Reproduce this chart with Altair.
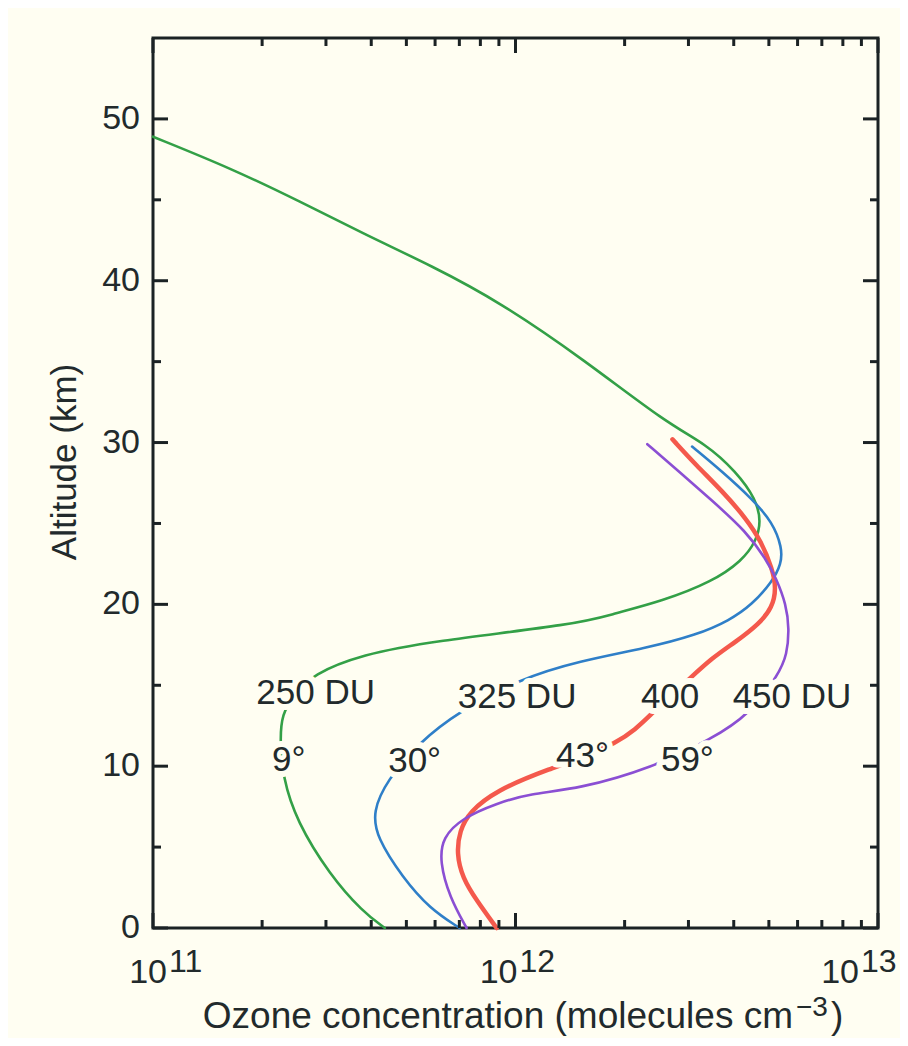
import altair as alt
import pandas as pd

# ---------------- data ----------------
series_names = ["250 DU", "325 DU", "400 DU", "450 DU"]
series_colors = ["#33a047", "#2f7fc8", "#f4594c", "#8b4fd3"]
series_widths = [2.6, 2.6, 4.5, 2.6]

green_conc = [1.00e11, 1.66e11, 2.54e11, 3.89e11, 5.90e11, 9.03e11, 1.55e12,
              2.61e12, 3.36e12, 4.06e12, 4.61e12, 4.76e12, 4.61e12, 4.22e12, 3.49e12,
              2.54e12, 1.85e12, 1.50e12, 5.79e11, 3.79e11, 2.76e11, 2.43e11, 2.27e11,
              2.24e11, 2.28e11, 2.49e11, 3.07e11, 3.79e11, 4.36e11]
green_alt = [48.9, 46.9, 44.9, 42.8, 40.9, 38.7, 35.1,
             31.2, 29.9, 28.2, 26.5, 25.1, 23.9, 22.7, 21.4,
             20.2, 19.4, 18.8, 17.7, 16.9, 15.7, 14.3, 13.2,
             11.7, 9.3, 6.6, 3.3, 1.0, 0.0]

blue_conc = [3.07e12, 3.72e12, 4.50e12, 5.11e12, 5.44e12, 5.41e12, 5.11e12, 4.50e12,
             3.89e12, 3.15e12, 2.30e12, 1.50e12, 1.03e12, 7.01e11, 5.44e11, 4.41e11,
             4.04e11, 4.14e11, 4.89e11, 5.80e11, 7.01e11]
blue_alt = [29.75, 28.2, 26.5, 25.1, 23.5, 22.5, 21.4, 20.0,
            19.0, 18.1, 17.3, 16.5, 15.4, 13.4, 11.5, 9.1,
            7.2, 5.6, 3.1, 1.2, 0.0]

red_conc = [2.71e12, 3.15e12, 3.72e12, 4.33e12, 4.76e12, 5.11e12, 5.24e12, 5.11e12,
            4.70e12, 4.06e12, 3.49e12, 3.02e12, 2.38e12, 1.97e12, 1.19e12, 8.87e11,
            7.47e11, 7.01e11, 6.88e11, 7.14e11, 7.81e11, 8.87e11]
red_alt = [30.2, 28.6, 27.0, 25.3, 23.9, 22.2, 21.0, 19.8,
           18.8, 17.7, 16.7, 15.4, 13.3, 11.4, 9.7, 8.5,
           7.2, 6.0, 4.6, 3.1, 1.7, 0.0]

purple_conc = [2.31e12, 2.83e12, 3.49e12, 4.33e12, 4.91e12, 5.24e12, 5.58e12, 5.69e12,
               5.61e12, 5.33e12, 4.42e12, 3.49e12, 2.38e12, 1.50e12, 1.09e12, 8.87e11,
               7.14e11, 6.29e11, 6.18e11, 6.58e11, 7.33e11]
purple_alt = [29.9, 28.2, 26.4, 24.5, 22.8, 21.6, 20.0, 18.5,
              16.9, 15.7, 13.2, 11.7, 9.9, 8.6, 8.3, 7.7,
              6.8, 5.6, 4.1, 1.9, 0.0]

label_text = ["250 DU", "9°", "325 DU", "30°", "400", "43°", "450 DU", "59°"]
label_conc = [2.81e11, 2.37e11, 1.01e12, 5.27e11, 2.67e12, 1.53e12, 5.79e12, 2.98e12]
label_alt = [14.5, 10.4, 14.3, 10.3, 14.3, 10.6, 14.3, 10.4]

y_tick_values = [0, 10, 20, 30, 40, 50]
y_tick_text = ["0", "10", "20", "30", "40", "50"]
y_minor = [5, 15, 25, 35, 45]
x_major = [1e11, 1e12, 1e13]
x_major_base = ["10", "10", "10"]
x_major_exp = ["11", "12", "13"]
x_minor = [k * 10.0 ** e for e in (11, 12) for k in range(2, 10)]

# ---------------- styling ----------------
FONT = "Liberation Sans, Arial, Helvetica, DejaVu Sans, sans-serif"
BG = "#fffef2"
INK = "#222a2c"
FRAME = "#1b2224"
W, H = 725, 890
MAJ, MIN = 15, 8
x_label_shift = [14, 2, -19]   # pixel nudge of each 10^n label, as in the reference

rows = []
for name, xs, ys, sw in zip(series_names,
                            [green_conc, blue_conc, red_conc, purple_conc],
                            [green_alt, blue_alt, red_alt, purple_alt],
                            series_widths):
    for i, (xv, yv) in enumerate(zip(xs, ys)):
        rows.append({"series": name, "conc": xv, "alt": yv, "order": i, "sw": sw})
df = pd.DataFrame(rows)

xscale = alt.Scale(type="log", domain=[1e11, 1e13], nice=False)
yscale = alt.Scale(domain=[0, 55], nice=False, zero=False)
X = alt.X("conc:Q", scale=xscale, axis=None)
Y = alt.Y("alt:Q", scale=yscale, axis=None)

lines = alt.Chart(df).mark_line(interpolate="basis", strokeCap="round",
                                strokeJoin="round").encode(
    x=X, y=Y,
    color=alt.Color("series:N", scale=alt.Scale(domain=series_names, range=series_colors),
                    legend=None),
    strokeWidth=alt.StrokeWidth("sw:Q", scale=None, legend=None),
    order=alt.Order("order:Q"),
)

lab_df = pd.DataFrame({"conc": label_conc, "alt": label_alt, "label": label_text})
halo = alt.Chart(lab_df).mark_text(font=FONT, fontSize=35, align="center", baseline="middle",
                                   fill=BG, stroke=BG, strokeWidth=12,
                                   strokeJoin="round").encode(x=X, y=Y, text="label:N")
labels = alt.Chart(lab_df).mark_text(font=FONT, fontSize=35, align="center",
                                     baseline="middle", color=INK).encode(
    x=X, y=Y, text="label:N")

# inward ticks on all four sides
ymaj_df = pd.DataFrame({"alt": y_tick_values, "lab": y_tick_text})
ymin_df = pd.DataFrame({"alt": y_minor})
xmaj_df = pd.DataFrame({"conc": x_major, "base": x_major_base, "exp": x_major_exp})
xmin_df = pd.DataFrame({"conc": x_minor})


def yticks(d, x0, x1):
    return alt.Chart(d).mark_rule(color=FRAME, strokeWidth=3).encode(
        y=Y, x=alt.value(x0), x2=alt.value(x1))


def xticks(d, y0, y1):
    return alt.Chart(d).mark_rule(color=FRAME, strokeWidth=3).encode(
        x=X, y=alt.value(y0), y2=alt.value(y1))


ticks = [
    yticks(ymaj_df, 0, MAJ), yticks(ymin_df, 0, MIN),
    yticks(ymaj_df, W - MAJ, W), yticks(ymin_df, W - MIN, W),
    xticks(xmaj_df, H, H - MAJ), xticks(xmin_df, H, H - MIN),
    xticks(xmaj_df, 0, MAJ), xticks(xmin_df, 0, MIN),
]

# y tick labels and title
ylabels = alt.Chart(ymaj_df).mark_text(font=FONT, fontSize=34, align="right",
                                       baseline="middle", color=INK).encode(
    y=Y, x=alt.value(-13), text="lab:N")
ytitle_df = pd.DataFrame({"t": ["Altitude (km)"]})
ytitle = alt.Chart(ytitle_df).mark_text(font=FONT, fontSize=35, align="center",
                                        baseline="middle", angle=270, color=INK).encode(
    x=alt.value(-88), y=alt.value(424), text="t:N")

# x tick labels 10^n (one small layer per label so each can be nudged)
xlabel_layers = []
for i, shift in enumerate(x_label_shift):
    one = xmaj_df.iloc[[i]]
    xlabel_layers.append(alt.Chart(one).mark_text(
        font=FONT, fontSize=34, align="right", baseline="alphabetic", dx=shift,
        color=INK).encode(x=X, y=alt.value(H + 55), text="base:N"))
    xlabel_layers.append(alt.Chart(one).mark_text(
        font=FONT, fontSize=32, align="left", baseline="alphabetic", dx=shift + 2,
        color=INK).encode(x=X, y=alt.value(H + 44), text="exp:N"))

# x axis title with superscript
title_df = pd.DataFrame({"t": ["Ozone concentration (molecules cm"], "s": ["\u22123"],
                         "p": [")"]})
xt_main = alt.Chart(title_df).mark_text(font=FONT, fontSize=37, align="right",
                                        baseline="alphabetic", color=INK).encode(
    x=alt.value(640), y=alt.value(H + 100), text="t:N")
xt_sup = alt.Chart(title_df).mark_text(font=FONT, fontSize=28, align="left",
                                       baseline="alphabetic", color=INK).encode(
    x=alt.value(643), y=alt.value(H + 88), text="s:N")
xt_par = alt.Chart(title_df).mark_text(font=FONT, fontSize=37, align="left",
                                       baseline="alphabetic", color=INK).encode(
    x=alt.value(678), y=alt.value(H + 100), text="p:N")

chart = alt.layer(lines, halo, labels, *ticks, ylabels, ytitle, *xlabel_layers,
                  xt_main, xt_sup, xt_par).properties(
    width=W, height=H,
    padding={"left": 145, "top": 30, "right": 22, "bottom": 110},
    autosize=alt.AutoSizeParams(type="none"),
    background=BG,
).configure_view(stroke=FRAME, strokeWidth=3, fill=BG)

chart.save("out.html", embed_options={"renderer": "svg", "actions": False})
